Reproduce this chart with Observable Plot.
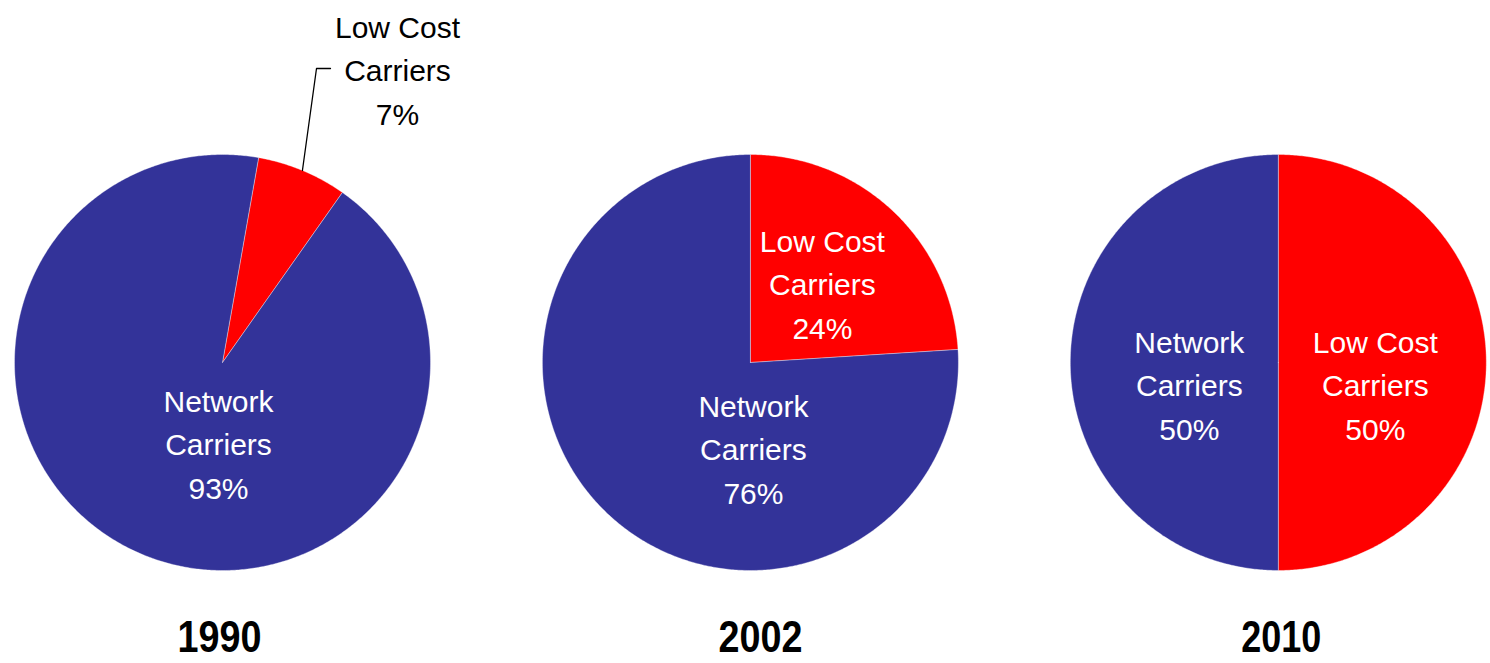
<!DOCTYPE html>
<html><head><meta charset="utf-8">
<script src="https://cdn.jsdelivr.net/npm/d3@7"></script>
<script src="https://cdn.jsdelivr.net/npm/@observablehq/plot@0.6"></script>
<style>body{margin:0;background:#fff;} svg{display:block;}</style>
</head><body><div id="chart"></div>
<script>
// ---- data ----
const years = ["1990", "2002", "2010"];
const segments = ["Low Cost Carriers", "Network Carriers"];
const lowCostShare = [7, 24, 50];
const networkShare = [93, 76, 50];

// ---- layout (pixels / pie-radius units) ----
const W = 1490, H = 663, R = 208, CX0 = 222, CY = 362, GAP = 2.538;
const startDeg = [10, 0, 0];
const labelFont = "'Liberation Sans', Arial, sans-serif";
const yearFont = "'Liberation Sans', Arial, sans-serif";
const px = v => v / R;

const slices = [];
const labels = [];
const leader = [];
years.forEach((year, i) => {
  const cx = i * GAP;
  const rot = startDeg[i] * Math.PI / 180;
  const arcs = d3.pie().sort(null).startAngle(rot).endAngle(rot + 2 * Math.PI)([lowCostShare[i], networkShare[i]]);
  arcs.forEach((a, j) => {
    const key = year + "-" + segments[j];
    slices.push({x: cx, y: 0, seg: segments[j], key});
    const n = Math.max(2, Math.ceil((a.endAngle - a.startAngle) / (Math.PI / 360)));
    for (let k = 0; k <= n; k++) {
      const t = a.startAngle + (a.endAngle - a.startAngle) * k / n;
      slices.push({x: cx + Math.sin(t), y: Math.cos(t), seg: segments[j], key});
    }
    slices.push({x: cx, y: 0, seg: segments[j], key});
  });
});

// label placements (offsets from pie centre in radius units)
const netOff = [[px(-4), px(-79)], [px(3), px(-84)], [px(-89), px(-20)]];
const lccOff = [[px(175), px(295)], [px(72), px(81)], [px(97), px(-20)]];
years.forEach((year, i) => {
  const cx = i * GAP;
  labels.push({x: cx + netOff[i][0], y: netOff[i][1], text: "Network\nCarriers\n" + networkShare[i] + "%", color: "white"});
  labels.push({x: cx + lccOff[i][0], y: lccOff[i][1], text: "Low Cost\nCarriers\n" + lowCostShare[i] + "%", color: i === 0 ? "black" : "white"});
});
// leader line for the small 1990 slice
{
  const a0 = startDeg[0] * Math.PI / 180;
  const mid = a0 + Math.PI * lowCostShare[0] / 100;
  leader.push({x: Math.sin(mid), y: Math.cos(mid)});
  leader.push({x: px(94), y: px(294)});
  leader.push({x: px(108), y: px(294)});
}
const yearLabels = years.map((year, i) => ({x: i * GAP + [px(-3), px(10), px(3)][i], y: px(CY - 651), text: year}));

const chart = Plot.plot({
  width: W, height: H, margin: 0,
  x: {domain: [-CX0 / R, (W - CX0) / R], axis: null},
  y: {domain: [(CY - H) / R, CY / R], axis: null},
  color: {domain: segments, range: ["#ff0000", "#333399"]},
  marks: [
    Plot.line(slices, {x: "x", y: "y", z: "key", fill: "seg", stroke: "#ffffff", strokeOpacity: 0.45, strokeWidth: 0.8, curve: "linear"}),
    Plot.line(leader, {x: "x", y: "y", stroke: "black", strokeWidth: 1.3}),
    Plot.text(labels, {x: "x", y: "y", text: "text", fill: "color", fontSize: 30, lineHeight: 1.45, fontFamily: labelFont, textAnchor: "middle"}),
    Plot.text(yearLabels, {x: "x", y: "y", text: "text", fill: "black", fontSize: 45, fontWeight: "bold", fontFamily: yearFont, lineAnchor: "bottom", textAnchor: "middle", className: "year-label"})
  ]
});
// condense the bold year labels to the reference's narrow width
chart.querySelectorAll(".year-label text").forEach(t => {
  t.setAttribute("textLength", t.textContent === "2010" ? 80 : 84);
  t.setAttribute("lengthAdjust", "spacingAndGlyphs");
});
document.getElementById("chart").appendChild(chart);
</script>
</body></html>
